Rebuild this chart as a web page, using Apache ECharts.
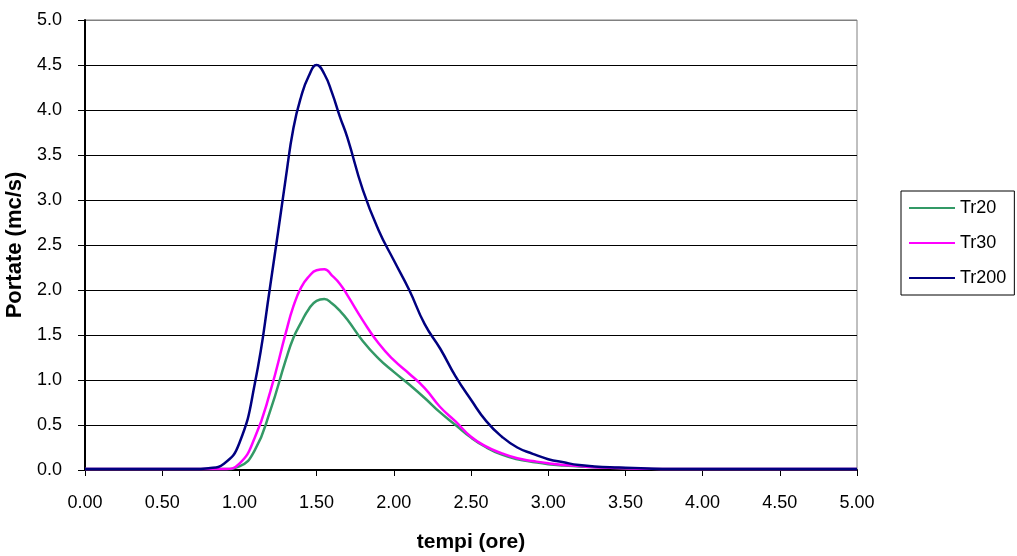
<!DOCTYPE html>
<html>
<head>
<meta charset="utf-8">
<script src="https://cdn.jsdelivr.net/npm/echarts@6/dist/echarts.min.js"></script>
<style>
html, body { margin: 0; padding: 0; background: #fff; }
#chart { width: 1017px; height: 556px; }
</style>
</head>
<body>
<div id="chart"></div>
<script>
// Time axis (hours)
const times = [0.0, 0.5, 0.7, 0.8, 0.9, 1.0, 1.1, 1.2, 1.3, 1.35, 1.4, 1.45, 1.5, 1.55, 1.6, 1.65, 1.7, 1.8, 1.9, 2.0, 2.1, 2.2, 2.3, 2.4, 2.5, 2.6, 2.7, 2.8, 2.9, 3.0, 3.1, 3.2, 3.3, 3.4, 3.5, 3.6, 3.8, 4.0, 4.5, 5.0];
// Discharge values (mc/s)
const tr20  = [0.01, 0.01, 0.01, 0.01, 0.01, 0.04, 0.22, 0.66, 1.22, 1.47, 1.64, 1.79, 1.88, 1.90, 1.85, 1.77, 1.67, 1.43, 1.24, 1.09, 0.95, 0.80, 0.64, 0.50, 0.36, 0.25, 0.17, 0.12, 0.09, 0.065, 0.05, 0.04, 0.03, 0.025, 0.02, 0.015, 0.01, 0.01, 0.01, 0.01];
const tr30  = [0.01, 0.01, 0.01, 0.01, 0.01, 0.07, 0.36, 0.87, 1.52, 1.82, 2.03, 2.15, 2.22, 2.23, 2.16, 2.07, 1.94, 1.66, 1.41, 1.22, 1.07, 0.91, 0.70, 0.54, 0.37, 0.26, 0.185, 0.13, 0.10, 0.074, 0.055, 0.044, 0.03, 0.025, 0.02, 0.015, 0.01, 0.01, 0.01, 0.01];
const tr200 = [0.01, 0.01, 0.01, 0.02, 0.07, 0.30, 0.96, 2.05, 3.24, 3.80, 4.15, 4.38, 4.50, 4.40, 4.19, 3.93, 3.69, 3.11, 2.67, 2.33, 2.00, 1.62, 1.35, 1.04, 0.78, 0.54, 0.37, 0.25, 0.18, 0.12, 0.085, 0.055, 0.04, 0.03, 0.025, 0.02, 0.01, 0.01, 0.01, 0.01];
const seriesNames = ['Tr20', 'Tr30', 'Tr200'];
const seriesColors = ['#339966', '#FF00FF', '#000080'];
const xTitle = 'tempi (ore)';
const yTitle = 'Portate (mc/s)';

const allValues = [tr20, tr30, tr200];
const FONT = 'Liberation Sans, Arial, sans-serif';

const chart = echarts.init(document.getElementById('chart'), null, { renderer: 'canvas' });
chart.setOption({
  animation: false,
  backgroundColor: '#ffffff',
  grid: {
    left: 85, top: 20, right: 160, bottom: 86,
    containLabel: false, outerBoundsMode: 'none',
    show: true, borderColor: '#808080', borderWidth: 1, backgroundColor: 'transparent'
  },
  legend: {
    orient: 'vertical',
    left: 901, top: 191,
    padding: [7, 8, 7, 8],
    itemGap: 15,
    itemWidth: 46, itemHeight: 2,
    icon: 'rect',
    borderColor: '#000', borderWidth: 1,
    textStyle: { fontFamily: FONT, fontSize: 18, color: '#000', lineHeight: 20 },
    data: seriesNames
  },
  xAxis: {
    type: 'value', min: 0, max: 5, interval: 0.5,
    name: xTitle, nameLocation: 'middle', nameGap: 62,
    nameTextStyle: { fontFamily: FONT, fontSize: 21, fontWeight: 'bold', color: '#000' },
    axisLine: { show: true, lineStyle: { color: '#000', width: 2 } },
    axisTick: { show: true, length: 6, lineStyle: { color: '#000', width: 1 } },
    axisLabel: { margin: 24, fontFamily: FONT, fontSize: 18, color: '#000',
      formatter: v => v.toFixed(2) },
    splitLine: { show: false }
  },
  yAxis: {
    type: 'value', min: 0, max: 5, interval: 0.5,
    name: yTitle, nameLocation: 'middle', nameGap: 57, nameRotate: 90,
    nameTextStyle: { fontFamily: FONT, fontSize: 22, fontWeight: 'bold', color: '#000' },
    axisLine: { show: true, lineStyle: { color: '#000', width: 2 } },
    axisTick: { show: true, length: 7, lineStyle: { color: '#000', width: 1 } },
    axisLabel: { margin: 23, fontFamily: FONT, fontSize: 18, color: '#000',
      formatter: v => v.toFixed(1) },
    splitLine: { show: true, lineStyle: { width: 1,
      color: ['#000', '#000', '#000', '#000', '#000', '#000', '#000', '#000', '#000', '#000', '#808080'] } }
  },
  series: seriesNames.map((name, i) => ({
    name: name,
    type: 'line',
    smooth: 0.5,
    showSymbol: false,
    symbol: 'none',
    color: seriesColors[i],
    lineStyle: { color: seriesColors[i], width: 2.5 },
    data: times.map((t, k) => [t, allValues[i][k]])
  }))
});
</script>
</body>
</html>
